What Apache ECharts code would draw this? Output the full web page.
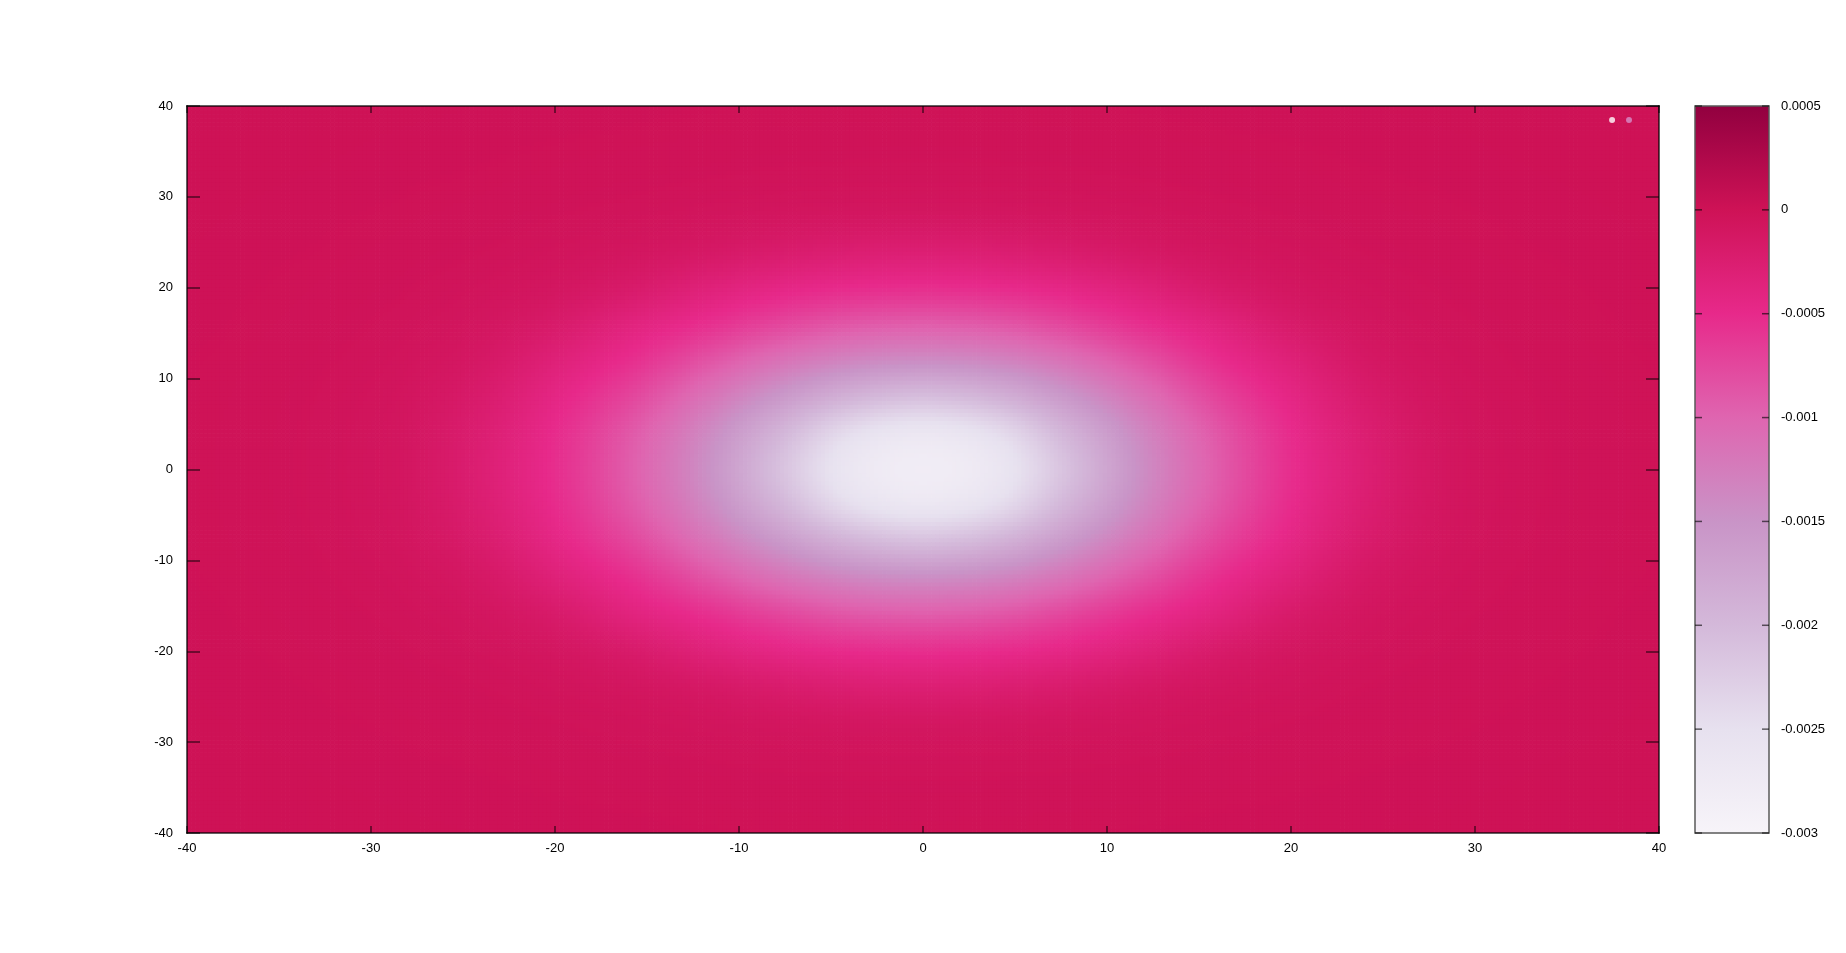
<!DOCTYPE html>
<html><head><meta charset="utf-8">
<script src="https://cdn.jsdelivr.net/npm/echarts@6/dist/echarts.min.js"></script>
<style>html,body{margin:0;padding:0;background:#fff}#c{width:1846px;height:953px}</style>
</head><body><div id="c"></div>
<script>
// grid node positions (data units)
const xNodes = [-40,-36,-32,-28,-24,-20,-16,-12,-8,-4,0,4,8,12,16,20,24,28,32,36,40];
const yNodes = [40,36,32,28,24,20,16,12,8,4,0,-4,-8,-12,-16,-20,-24,-28,-32,-36,-40];
// field values, in units of 1e-4 (rows: y = 40 ... -40, cols: x = -40 ... 40)
const FIELD_UNIT = 1e-4;
const fieldRows = [
[-0.01,-0.018,-0.025,-0.036,-0.05,-0.065,-0.08,-0.1,-0.11,-0.12,-0.12,-0.12,-0.11,-0.1,-0.08,-0.065,-0.05,-0.036,-0.025,-0.018,-0.01],
[-0.018,-0.026,-0.04,-0.06,-0.08,-0.105,-0.13,-0.16,-0.19,-0.21,-0.22,-0.21,-0.19,-0.16,-0.13,-0.105,-0.08,-0.06,-0.04,-0.026,-0.018],
[-0.025,-0.04,-0.06,-0.09,-0.12,-0.17,-0.23,-0.31,-0.4,-0.45,-0.47,-0.45,-0.4,-0.31,-0.23,-0.17,-0.12,-0.09,-0.06,-0.04,-0.025],
[-0.036,-0.06,-0.09,-0.13,-0.19,-0.3,-0.45,-0.65,-0.85,-1.0,-1.05,-1.0,-0.85,-0.65,-0.45,-0.3,-0.19,-0.13,-0.09,-0.06,-0.036],
[-0.05,-0.08,-0.12,-0.19,-0.32,-0.56,-0.9,-1.43,-2.1,-2.6,-2.8,-2.6,-2.1,-1.43,-0.9,-0.56,-0.32,-0.19,-0.12,-0.08,-0.05],
[-0.065,-0.105,-0.17,-0.3,-0.56,-1.0,-1.9,-3.25,-4.4,-5.15,-5.4,-5.15,-4.4,-3.25,-1.9,-1.0,-0.56,-0.3,-0.17,-0.105,-0.065],
[-0.08,-0.13,-0.23,-0.45,-0.9,-1.9,-3.7,-5.4,-7.3,-8.8,-9.3,-8.8,-7.3,-5.4,-3.7,-1.9,-0.9,-0.45,-0.23,-0.13,-0.08],
[-0.1,-0.16,-0.31,-0.65,-1.43,-3.25,-5.4,-8.3,-11.2,-13.4,-14.2,-13.4,-11.2,-8.3,-5.4,-3.25,-1.43,-0.65,-0.31,-0.16,-0.1],
[-0.11,-0.19,-0.4,-0.85,-2.1,-4.4,-7.3,-11.2,-15.3,-19.0,-20.6,-19.0,-15.3,-11.2,-7.3,-4.4,-2.1,-0.85,-0.4,-0.19,-0.11],
[-0.12,-0.21,-0.45,-1.0,-2.6,-5.15,-8.8,-13.4,-19.0,-24.4,-26.3,-24.4,-19.0,-13.4,-8.8,-5.15,-2.6,-1.0,-0.45,-0.21,-0.12],
[-0.12,-0.22,-0.47,-1.05,-2.8,-5.4,-9.3,-14.2,-20.6,-26.3,-28.0,-26.3,-20.6,-14.2,-9.3,-5.4,-2.8,-1.05,-0.47,-0.22,-0.12],
[-0.12,-0.21,-0.45,-1.0,-2.6,-5.15,-8.8,-13.4,-19.0,-24.4,-26.3,-24.4,-19.0,-13.4,-8.8,-5.15,-2.6,-1.0,-0.45,-0.21,-0.12],
[-0.11,-0.19,-0.4,-0.85,-2.1,-4.4,-7.3,-11.2,-15.3,-19.0,-20.6,-19.0,-15.3,-11.2,-7.3,-4.4,-2.1,-0.85,-0.4,-0.19,-0.11],
[-0.1,-0.16,-0.31,-0.65,-1.43,-3.25,-5.4,-8.3,-11.2,-13.4,-14.2,-13.4,-11.2,-8.3,-5.4,-3.25,-1.43,-0.65,-0.31,-0.16,-0.1],
[-0.08,-0.13,-0.23,-0.45,-0.9,-1.9,-3.7,-5.4,-7.3,-8.8,-9.3,-8.8,-7.3,-5.4,-3.7,-1.9,-0.9,-0.45,-0.23,-0.13,-0.08],
[-0.065,-0.105,-0.17,-0.3,-0.56,-1.0,-1.9,-3.25,-4.4,-5.15,-5.4,-5.15,-4.4,-3.25,-1.9,-1.0,-0.56,-0.3,-0.17,-0.105,-0.065],
[-0.05,-0.08,-0.12,-0.19,-0.32,-0.56,-0.9,-1.43,-2.1,-2.6,-2.8,-2.6,-2.1,-1.43,-0.9,-0.56,-0.32,-0.19,-0.12,-0.08,-0.05],
[-0.036,-0.06,-0.09,-0.13,-0.19,-0.3,-0.45,-0.65,-0.85,-1.0,-1.05,-1.0,-0.85,-0.65,-0.45,-0.3,-0.19,-0.13,-0.09,-0.06,-0.036],
[-0.025,-0.04,-0.06,-0.09,-0.12,-0.17,-0.23,-0.31,-0.4,-0.45,-0.47,-0.45,-0.4,-0.31,-0.23,-0.17,-0.12,-0.09,-0.06,-0.04,-0.025],
[-0.018,-0.026,-0.04,-0.06,-0.08,-0.105,-0.13,-0.16,-0.19,-0.21,-0.22,-0.21,-0.19,-0.16,-0.13,-0.105,-0.08,-0.06,-0.04,-0.026,-0.018],
[-0.01,-0.018,-0.025,-0.036,-0.05,-0.065,-0.08,-0.1,-0.11,-0.12,-0.12,-0.12,-0.11,-0.1,-0.08,-0.065,-0.05,-0.036,-0.025,-0.018,-0.01]
];
// axes / colour bar
const xRange = [-40, 40], yRange = [-40, 40], tickStep = 10;
const cbRange = [-0.003, 0.0005], cbStep = 0.0005;
const cbTicks = [-0.003, -0.0025, -0.002, -0.0015, -0.001, -0.0005, 0, 0.0005];
const cbTickLabels = ['-0.003','-0.0025','-0.002','-0.0015','-0.001','-0.0005','0','0.0005'];
const palette = ['#F7F4F9','#E7E1EF','#D4B9DA','#C994C7','#DF65B0','#E7298A','#CE1256','#91003F'];
// two small key samples at the top right
const keyPoints = [[37.45, 38.45], [38.37, 38.45]];
const keyColors = ['#ffffff', '#d690c9'];

const field = fieldRows.map(r => r.map(v => v * FIELD_UNIT));
const NR = yNodes.length, NC = xNodes.length;
function fv(k, m) {
  k = Math.max(0, Math.min(NR - 1, k));
  m = Math.max(0, Math.min(NC - 1, m));
  return field[k][m];
}
function cr(p0, p1, p2, p3, t) {
  return 0.5 * (2 * p1 + (-p0 + p2) * t + (2 * p0 - 5 * p1 + 4 * p2 - p3) * t * t + (-p0 + 3 * p1 - 3 * p2 + p3) * t * t * t);
}
function sample(k, m, v, u) {
  const r = [];
  for (let a = -1; a <= 2; a++) r.push(cr(fv(k + a, m - 1), fv(k + a, m), fv(k + a, m + 1), fv(k + a, m + 2), u));
  return cr(r[0], r[1], r[2], r[3], v);
}
function colorOf(val) {
  let t = (val - cbRange[0]) / (cbRange[1] - cbRange[0]);
  t = Math.max(0, Math.min(1, t));
  return echarts.color.lerp(t, palette);
}
const cells = [];
for (let k = 0; k < NR - 1; k++) for (let m = 0; m < NC - 1; m++) {
  cells.push([xNodes[m], yNodes[k], xNodes[m + 1], yNodes[k + 1], k, m, field[k][m]]);
}

const FONT = 'Liberation Sans, Arial, sans-serif';
const lab = {color: '#000', fontSize: 13, fontFamily: FONT};
const LINE = 'rgba(0,0,0,0.62)';
const chart = echarts.init(document.getElementById('c'), null, {renderer: 'canvas'});
const axisBase = (pos, gi, tickLen, showLabel, margin, isX) => ({
  type: 'value', gridIndex: gi, position: pos, z: 10,
  min: isX ? xRange[0] : yRange[0], max: isX ? xRange[1] : yRange[1], interval: tickStep,
  axisLine: {show: true, onZero: false, lineStyle: {color: LINE, width: 2}},
  axisTick: {show: true, inside: true, length: tickLen, lineStyle: {color: LINE, width: 1.5}},
  axisLabel: Object.assign({show: showLabel, margin: margin}, lab),
  splitLine: {show: false}
});
chart.setOption({
  animation: false,
  backgroundColor: '#fff',
  grid: [
    {left: 187, right: 187, top: 106, bottom: 120},
    {left: 1695, width: 74, top: 106, bottom: 120}
  ],
  xAxis: [
    axisBase('bottom', 0, 7, true, 9, true),
    axisBase('top', 0, 7, false, 9, true),
    {type: 'value', gridIndex: 1, min: 0, max: 1, show: false}
  ],
  yAxis: [
    axisBase('left', 0, 13, true, 14, false),
    axisBase('right', 0, 13, false, 14, false),
    {type: 'value', gridIndex: 1, position: 'right', min: cbRange[0], max: cbRange[1], interval: cbStep, z: 10,
      axisLine: {show: false}, axisTick: {show: false},
      axisLabel: Object.assign({margin: 12, formatter: v => {
        const i = Math.round((v - cbRange[0]) / cbStep); return cbTickLabels[i] !== undefined ? cbTickLabels[i] : String(v);
      }}, lab),
      splitLine: {show: false}}
  ],
  series: [
    {
      type: 'custom', xAxisIndex: 0, yAxisIndex: 0, clip: true, silent: true, z: 1,
      data: cells,
      encode: {x: [0, 2], y: [1, 3]},
      renderItem: function (params, api) {
        const p0 = api.coord([api.value(0), api.value(1)]);
        const p1 = api.coord([api.value(2), api.value(3)]);
        const k = api.value(4), m = api.value(5);
        const NX = 18, NY = 9;
        const w = (p1[0] - p0[0]) / NX, h = (p1[1] - p0[1]) / NY;
        const children = [];
        for (let b = 0; b < NY; b++) for (let a = 0; a < NX; a++) {
          const val = sample(k, m, (b + 0.5) / NY, (a + 0.5) / NX);
          children.push({type: 'rect', silent: true,
            shape: {x: p0[0] + a * w, y: p0[1] + b * h, width: w + 0.7, height: h + 0.7},
            style: {fill: colorOf(val)}});
        }
        return {type: 'group', children: children};
      }
    },
    {
      type: 'custom', xAxisIndex: 2, yAxisIndex: 2, silent: true, z: 1,
      data: [[0, cbRange[0], 1, cbRange[1]]],
      encode: {x: [0, 2], y: [1, 3]},
      renderItem: function (params, api) {
        const a = api.coord([api.value(0), api.value(3)]);
        const b = api.coord([api.value(2), api.value(1)]);
        const stops = palette.map((c, i) => ({offset: 1 - i / (palette.length - 1), color: c})).reverse();
        const children = [{type: 'rect', shape: {x: a[0], y: a[1], width: b[0] - a[0], height: b[1] - a[1]},
          style: {fill: new echarts.graphic.LinearGradient(0, 0, 0, 1, stops), stroke: '#5a5a5a', lineWidth: 1.5}}];
        cbTicks.forEach(t => {
          const y = api.coord([0, t])[1];
          children.push({type: 'line', shape: {x1: a[0], y1: y, x2: a[0] + 7, y2: y}, style: {stroke: 'rgba(0,0,0,0.6)', lineWidth: 1.5}});
          children.push({type: 'line', shape: {x1: b[0] - 7, y1: y, x2: b[0], y2: y}, style: {stroke: 'rgba(0,0,0,0.6)', lineWidth: 1.5}});
        });
        return {type: 'group', children: children};
      }
    },
    {
      type: 'scatter', xAxisIndex: 0, yAxisIndex: 0, silent: true, z: 5,
      symbolSize: 6,
      data: keyPoints.map((p, i) => ({value: p, itemStyle: {color: keyColors[i]}}))
    }
  ]
});
</script>
</body></html>
